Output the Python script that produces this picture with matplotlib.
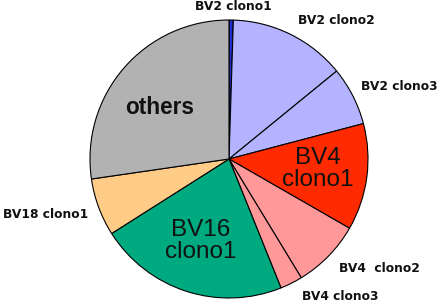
import matplotlib
matplotlib.use("Agg")
import matplotlib.pyplot as plt

labels = ["BV2 clono1", "BV2 clono2", "BV2 clono3", "BV4 clono1", "BV4  clono2",
          "BV4 clono3", "BV16 clono1", "BV18 clono1", "others"]
values = [0.5, 13.6, 6.8, 12.4, 8.0, 2.6, 22.1, 6.7, 27.3]
colors = ["#1f2fd0", "#b3b3ff", "#b3b3ff", "#ff2a00", "#ff9999",
          "#ff9999", "#00aa80", "#ffcc88", "#b2b2b2"]

W, H = 440, 304
fig = plt.figure(figsize=(W / 100, H / 100), dpi=100)
ax = fig.add_axes([0, 0, 1, 1])
ax.set_xlim(0, W)
ax.set_ylim(0, H)
ax.set_aspect("equal")
ax.axis("off")

ax.pie(values, colors=colors, startangle=90, counterclock=False,
       center=(229, H - 159), radius=139, frame=True,
       wedgeprops=dict(edgecolor="black", linewidth=0.8))
ax.set_xlim(0, W)
ax.set_ylim(0, H)
ax.axis("off")

small = dict(family="DejaVu Sans", fontweight="bold", fontsize=8.8,
             ha="center", va="center", color="#111111")
ext_pos = {
    "BV2 clono1": (233, 7),
    "BV2 clono2": (336, 21),
    "BV2 clono3": (399, 87),
    "BV4  clono2": (379, 269),
    "BV4 clono3": (340, 297),
    "BV18 clono1": (46, 214),
}
for lab, (x, y) in ext_pos.items():
    ax.text(x, H - y, lab, **small)

big = dict(family="Liberation Sans", fontsize=17.5, ha="center", va="center",
           color="#111111", linespacing=1.05)
ax.text(318, H - 169, "BV4\nclono1", **big)
ax.text(201, H - 241, "BV16\nclono1", **big)
ax.text(159.5, H - 108, "others", family="Liberation Sans", fontweight="bold",
        fontsize=16.3, ha="center", va="center", color="#111111")

fig.savefig("out.png", dpi=100)
